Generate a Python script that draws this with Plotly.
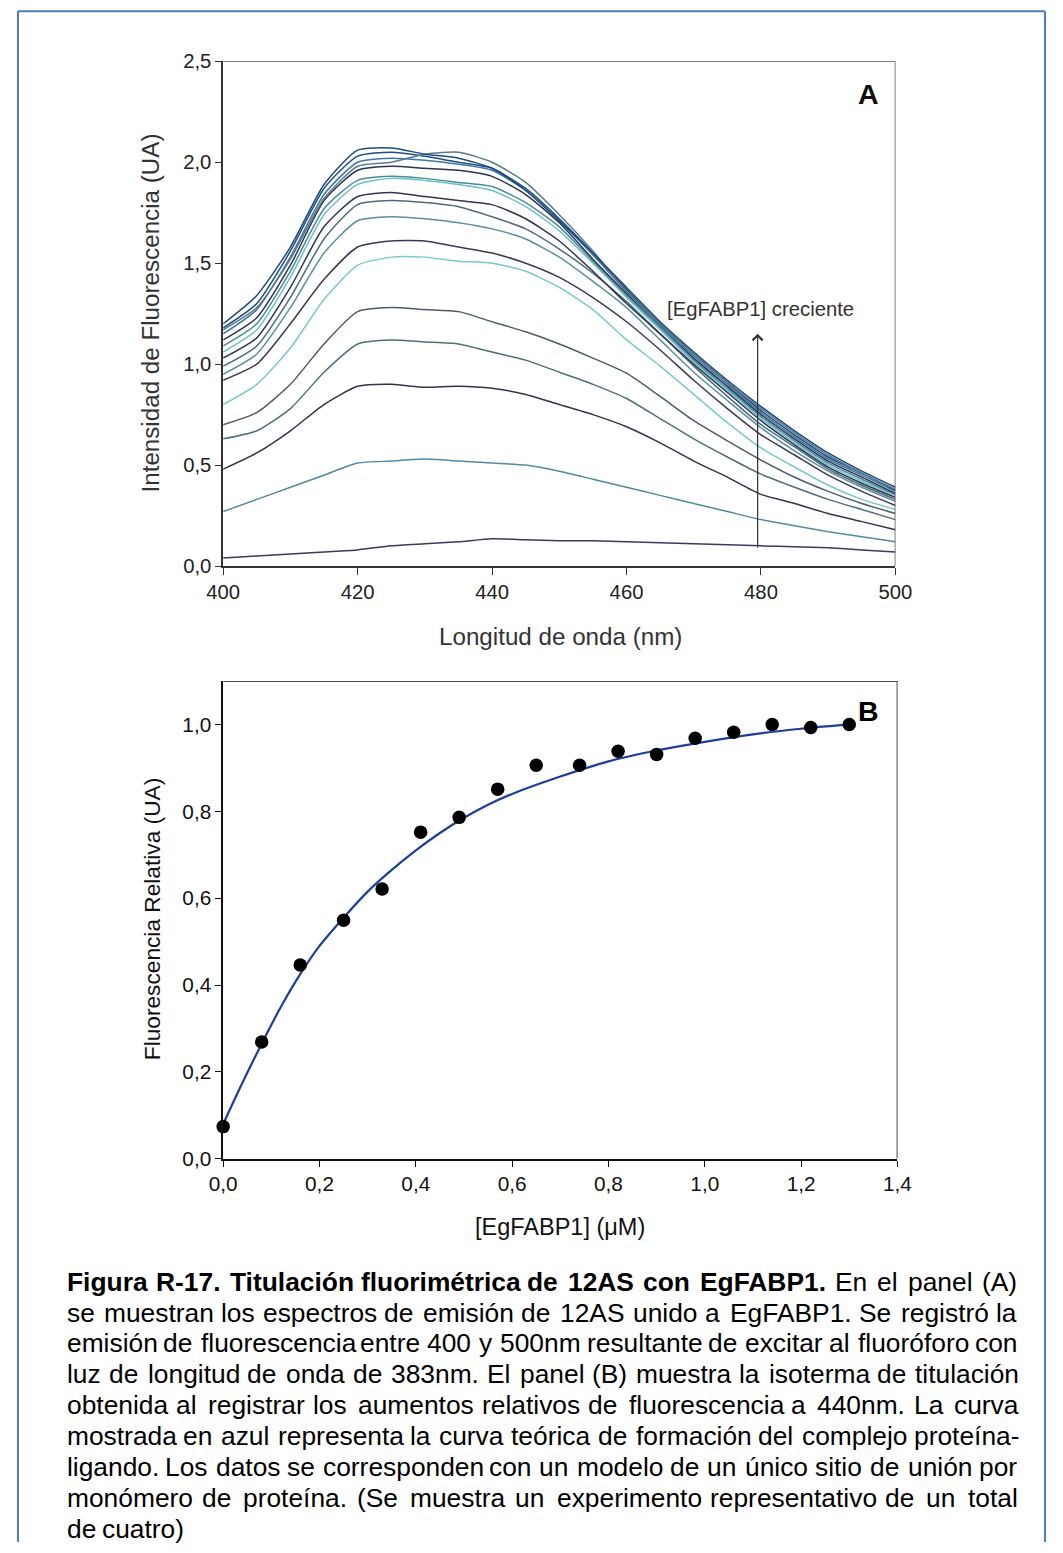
import plotly.graph_objects as go

# ---------------- Panel A data ----------------
wavelength = [400, 405, 410, 415, 420, 425, 430, 435, 440, 445, 450,
              455, 460, 465, 470, 475, 480, 485, 490, 495, 500]

spec_01 = [0.04, 0.05, 0.06, 0.07, 0.08, 0.10, 0.11, 0.12, 0.135, 0.13, 0.125, 0.125, 0.12, 0.115, 0.11, 0.105, 0.10, 0.095, 0.09, 0.08, 0.07]
spec_02 = [0.27, 0.33, 0.39, 0.45, 0.51, 0.52, 0.53, 0.52, 0.51, 0.50, 0.47, 0.43, 0.39, 0.35, 0.31, 0.27, 0.23, 0.20, 0.17, 0.145, 0.12]
spec_03 = [0.48, 0.56, 0.67, 0.80, 0.89, 0.90, 0.885, 0.89, 0.88, 0.85, 0.80, 0.75, 0.69, 0.61, 0.52, 0.44, 0.355, 0.31, 0.26, 0.22, 0.18]
spec_04 = [0.63, 0.67, 0.78, 0.96, 1.10, 1.12, 1.11, 1.10, 1.06, 1.02, 0.96, 0.90, 0.83, 0.73, 0.63, 0.54, 0.455, 0.39, 0.33, 0.28, 0.23]
spec_05 = [0.70, 0.76, 0.90, 1.10, 1.26, 1.28, 1.27, 1.26, 1.21, 1.16, 1.10, 1.03, 0.955, 0.84, 0.72, 0.62, 0.525, 0.44, 0.37, 0.31, 0.26]
spec_06 = [0.80, 0.90, 1.08, 1.32, 1.49, 1.53, 1.53, 1.51, 1.50, 1.46, 1.38, 1.27, 1.12, 0.99, 0.85, 0.71, 0.585, 0.49, 0.40, 0.33, 0.28]
spec_07 = [0.92, 1.00, 1.20, 1.42, 1.58, 1.61, 1.61, 1.58, 1.55, 1.50, 1.43, 1.33, 1.21, 1.07, 0.92, 0.78, 0.65, 0.55, 0.45, 0.37, 0.30]
spec_08 = [0.95, 1.05, 1.28, 1.55, 1.71, 1.73, 1.72, 1.70, 1.67, 1.62, 1.53, 1.41, 1.28, 1.12, 0.96, 0.82, 0.685, 0.57, 0.47, 0.39, 0.32]
spec_09 = [0.99, 1.09, 1.33, 1.62, 1.79, 1.81, 1.80, 1.78, 1.73, 1.67, 1.57, 1.45, 1.31, 1.15, 0.99, 0.84, 0.70, 0.59, 0.48, 0.40, 0.33]
spec_10 = [1.03, 1.13, 1.38, 1.68, 1.83, 1.85, 1.83, 1.81, 1.79, 1.72, 1.61, 1.46, 1.30, 1.15, 1.00, 0.86, 0.72, 0.60, 0.49, 0.41, 0.34]
spec_11 = [1.06, 1.17, 1.43, 1.74, 1.89, 1.92, 1.91, 1.89, 1.86, 1.78, 1.66, 1.50, 1.33, 1.17, 1.01, 0.87, 0.73, 0.61, 0.50, 0.42, 0.35]
spec_12 = [1.09, 1.20, 1.46, 1.77, 1.91, 1.93, 1.92, 1.90, 1.88, 1.80, 1.68, 1.51, 1.34, 1.18, 1.02, 0.88, 0.74, 0.62, 0.51, 0.43, 0.355]
spec_13 = [1.12, 1.23, 1.49, 1.81, 1.96, 1.98, 1.97, 1.96, 1.93, 1.84, 1.70, 1.52, 1.35, 1.19, 1.03, 0.89, 0.75, 0.63, 0.52, 0.44, 0.36]
spec_14 = [1.15, 1.27, 1.53, 1.84, 2.00, 2.02, 2.01, 1.99, 1.96, 1.86, 1.71, 1.54, 1.36, 1.19, 1.04, 0.90, 0.76, 0.64, 0.53, 0.45, 0.37]
spec_15 = [1.18, 1.30, 1.56, 1.87, 2.03, 2.05, 2.03, 2.00, 1.97, 1.87, 1.72, 1.55, 1.37, 1.20, 1.05, 0.91, 0.77, 0.65, 0.54, 0.46, 0.375]
spec_16 = [1.17, 1.28, 1.52, 1.82, 1.98, 2.00, 2.04, 2.05, 2.00, 1.90, 1.74, 1.56, 1.36, 1.20, 1.05, 0.91, 0.78, 0.66, 0.55, 0.46, 0.38]
spec_17 = [1.20, 1.34, 1.58, 1.89, 2.06, 2.07, 2.04, 2.02, 1.97, 1.86, 1.71, 1.55, 1.38, 1.21, 1.06, 0.92, 0.79, 0.67, 0.56, 0.47, 0.39]

spectra = [spec_01, spec_02, spec_03, spec_04, spec_05, spec_06, spec_07, spec_08, spec_09,
           spec_10, spec_11, spec_12, spec_13, spec_14, spec_15, spec_16, spec_17]
spec_colors = ["#3b3a5e", "#4f8aa6", "#34334f", "#4c707c", "#4d5c6e", "#79c9cc", "#3a3a58",
               "#5b8da3", "#4e6b7a", "#2f3555", "#6cc3c6", "#4d8b99", "#2d3352", "#3d78a8",
               "#1f4f7f", "#5a7a8a", "#1d4a80"]

# ---------------- Panel B data ----------------
protein_conc = [0.0, 0.08, 0.16, 0.25, 0.33, 0.41, 0.49, 0.57, 0.65, 0.74, 0.82, 0.90,
                0.98, 1.06, 1.14, 1.22, 1.30]
rel_fluor = [0.074, 0.269, 0.446, 0.549, 0.621, 0.752, 0.786, 0.851, 0.906, 0.906, 0.938,
             0.931, 0.968, 0.982, 1.0, 0.993, 1.0]

fit_x = [0, 0.04, 0.08, 0.12, 0.16, 0.2, 0.25, 0.3, 0.35, 0.4, 0.45, 0.5, 0.55, 0.6,
         0.7, 0.8, 0.9, 1.0, 1.1, 1.2, 1.3]
fit_y = [0.08, 0.175, 0.265, 0.35, 0.425, 0.49, 0.555, 0.615, 0.665, 0.71, 0.75, 0.785,
         0.815, 0.84, 0.88, 0.915, 0.94, 0.96, 0.977, 0.99, 1.0]

caption_lines = [
    "Figura R-17. Titulación fluorimétrica de 12AS con EgFABP1. En el panel (A)",
    "se muestran los espectros de emisión de 12AS unido a EgFABP1. Se registró la",
    "emisión de fluorescencia entre 400 y 500nm resultante de excitar al fluoróforo con",
    "luz de longitud de onda de 383nm. El panel (B) muestra la isoterma de titulación",
    "obtenida al registrar los aumentos relativos de fluorescencia a 440nm. La curva",
    "mostrada en azul representa la curva teórica de formación del complejo proteína-",
    "ligando. Los datos se corresponden con un modelo de un único sitio de unión por",
    "monómero de proteína. (Se muestra un experimento representativo de un total",
    "de cuatro)",
]
caption_bold_words = 8  # first words of line 1 are bold

# Figure size, plus the measured mapping from figure pixels to the photographed picture
W, H = 1063, 1553
SX, OX = 0.9705, 14.3
SY, OY = 0.9863, 9.7
FS = 1 / SX  # font compensation

def fx(t):
    return (t - OX) / SX
def fy(t):
    return (t - OY) / SY
def px(t):
    return min(max(fx(t) / W, 0.0), 1.0)
def py(t):
    return min(max(1 - fy(t) / H, 0.0), 1.0)

# Arial / Liberation Sans advance widths (1/1000 em) for justification
REG = {' ': 278, '(': 333, ')': 333, ',': 278, '-': 333, '.': 278, ':': 278,
       'A': 667, 'B': 667, 'C': 722, 'D': 722, 'E': 667, 'F': 611, 'G': 778, 'L': 556,
       'P': 667, 'R': 722, 'S': 667, 'T': 611,
       'a': 556, 'b': 556, 'c': 500, 'd': 556, 'e': 556, 'f': 278, 'g': 556, 'h': 556,
       'i': 222, 'j': 222, 'k': 500, 'l': 222, 'm': 833, 'n': 556, 'o': 556, 'p': 556,
       'q': 556, 'r': 333, 's': 500, 't': 278, 'u': 556, 'v': 500, 'w': 722, 'x': 500,
       'y': 500, 'z': 500, 'á': 556, 'é': 556, 'í': 278, 'ó': 556, 'ú': 556, 'ñ': 556}
BOLD = {' ': 278, '-': 333, '.': 278, 'A': 722, 'B': 722, 'E': 667, 'F': 611, 'G': 778,
        'P': 667, 'R': 722, 'S': 667, 'T': 611,
        'a': 556, 'c': 556, 'd': 611, 'e': 556, 'f': 333, 'g': 611, 'i': 278, 'l': 278,
        'm': 889, 'n': 611, 'o': 611, 'r': 389, 's': 556, 't': 333, 'u': 611,
        'é': 556, 'ó': 611, 'í': 278, 'á': 556}

CAP_T = 25.6                # caption size as seen in the picture
CAP_LEFT, CAP_RIGHT = 64, 1016
FONT = "Liberation Sans, Arial"

def word_width(w, bold):
    tab = BOLD if bold else REG
    return sum(tab.get(ch, 556) for ch in w) * CAP_T / 1000.0

fig = go.Figure()

for s, c in zip(spectra, spec_colors):
    fig.add_trace(go.Scatter(x=wavelength, y=s, mode="lines", xaxis="x", yaxis="y",
                             line=dict(color=c, width=1.5, shape="spline", smoothing=0.6),
                             showlegend=False, hoverinfo="skip"))

fig.add_trace(go.Scatter(x=fit_x, y=fit_y, mode="lines", xaxis="x2", yaxis="y2",
                         line=dict(color="#1c3f9a", width=2.2, shape="spline", smoothing=0.8),
                         showlegend=False, cliponaxis=False))
fig.add_trace(go.Scatter(x=protein_conc, y=rel_fluor, mode="markers", xaxis="x2", yaxis="y2",
                         marker=dict(color="black", size=13.5), showlegend=False, cliponaxis=False))

tickfontA = dict(family=FONT, size=20 * FS * 0.985, color="#222")
tickfontB = dict(family="Liberation Sans Narrow, Arial Narrow, Liberation Sans", size=20.5 * FS * 0.985, color="#111")

fig.update_layout(
    width=W, height=H,
    margin=dict(l=0, r=0, t=0, b=0),
    paper_bgcolor="white", plot_bgcolor="white",
    separators=",.",
    xaxis=dict(domain=[px(221), px(895)], anchor="y", range=[400, 500],
               tickvals=[400, 420, 440, 460, 480, 500], ticks="outside", ticklen=7,
               tickcolor="#333", showline=True, linecolor="#333", linewidth=1.5,
               showgrid=False, zeroline=False, tickfont=tickfontA, mirror=False),
    yaxis=dict(domain=[py(565), py(60)], anchor="x", range=[0, 2.5],
               tickvals=[0, 0.5, 1.0, 1.5, 2.0, 2.5], tickformat=".1f",
               ticks="outside", ticklen=6, tickcolor="#333", showline=True,
               linecolor="#333", linewidth=1.5, showgrid=False, zeroline=False,
               tickfont=tickfontA),
    xaxis2=dict(domain=[px(221), px(897)], anchor="y2", range=[0, 1.4],
                tickvals=[0, 0.2, 0.4, 0.6, 0.8, 1.0, 1.2, 1.4], tickformat=".1f",
                ticks="outside", ticklen=6, tickcolor="#111", showline=True,
                linecolor="#111", linewidth=1.5, showgrid=False, zeroline=False,
                tickfont=tickfontB),
    yaxis2=dict(domain=[py(1158), py(680)], anchor="x2", range=[0, 1.1],
                tickvals=[0, 0.2, 0.4, 0.6, 0.8, 1.0], tickformat=".1f",
                ticks="outside", ticklen=6, tickcolor="#111", showline=True,
                linecolor="#111", linewidth=1.5, showgrid=False, zeroline=False,
                tickfont=tickfontB),
)

border = dict(color="#4a7ebb", width=2)
bl, br, bt = 1.0 / W, 1 - 1.0 / W, py(10)
shapes = [
    dict(type="line", xref="x", yref="y", x0=400, x1=500, y0=2.5, y1=2.5,
         line=dict(color="#555", width=1.5)),
    dict(type="line", xref="x", yref="y", x0=500, x1=500, y0=0, y1=2.5,
         line=dict(color="#555", width=1.5)),
    dict(type="line", xref="x2", yref="y2", x0=0, x1=1.4, y0=1.1, y1=1.1,
         line=dict(color="#111", width=1.5)),
    dict(type="line", xref="x2", yref="y2", x0=1.4, x1=1.4, y0=0, y1=1.1,
         line=dict(color="#111", width=1.5)),
    # outer blue frame (left, top, right), bottom edge is off-page
    dict(type="line", xref="paper", yref="paper", x0=bl, x1=bl, y0=0, y1=bt, line=border),
    dict(type="line", xref="paper", yref="paper", x0=bl, x1=br, y0=bt, y1=bt, line=border),
    dict(type="line", xref="paper", yref="paper", x0=br, x1=br, y0=0, y1=bt, line=border),
]

def label(x, y, text, size, color="#333", angle=0, xref="paper", yref="paper"):
    return dict(x=x, y=y, xref=xref, yref=yref, text=text, textangle=angle,
                showarrow=False, xanchor="center", yanchor="middle",
                font=dict(family=FONT, size=size, color=color))

annotations = [
    label(px(148), py(312), "Intensidad de Fluorescencia (UA)", 24.2, angle=-90),
    label(px(559), py(635), "Longitud de onda (nm)", 24.2),
    label(496, 2.34, "<b>A</b>", 28.5, color="#111", xref="x", yref="y"),
    label(px(760), py(308), "[EgFABP1] creciente", 20.3),
    dict(x=479.5, y=1.15, ax=479.5, ay=0.085, xref="x", yref="y", axref="x", ayref="y",
         text="", showarrow=True, arrowhead=4, arrowsize=1.6, arrowwidth=1.2, arrowcolor="#333"),
    label(px(150), py(918), "Fluorescencia Relativa (UA)", 22.7, color="#111", angle=-90),
    label(px(559), py(1226), "[EgFABP1] (μM)", 23.5, color="#111"),
    label(1.34, 1.03, "<b>B</b>", 28.5, color="black", xref="x2", yref="y2"),
]

# justified caption: words placed individually
for i, line in enumerate(caption_lines):
    words = line.split(" ")
    bold_flags = [(i == 0 and k < caption_bold_words) for k in range(len(words))]
    widths = [word_width(w, b) for w, b in zip(words, bold_flags)]
    last = (i == len(caption_lines) - 1)
    if last or len(words) == 1:
        gap = REG[' '] * CAP_T / 1000.0
    else:
        gap = (CAP_RIGHT - CAP_LEFT - sum(widths)) / (len(words) - 1)
    x = CAP_LEFT
    yline = 1281 + i * 30.9
    for w, b, wd in zip(words, bold_flags, widths):
        annotations.append(dict(x=px(x), y=py(yline), xref="paper", yref="paper",
                                text=("<b>%s</b>" % w) if b else w, showarrow=False,
                                xanchor="left", yanchor="middle", borderpad=0, borderwidth=0,
                                font=dict(family=FONT, size=CAP_T * FS, color="black")))
        x += wd + gap

fig.update_layout(shapes=shapes, annotations=annotations)
fig.write_html("out.html")
